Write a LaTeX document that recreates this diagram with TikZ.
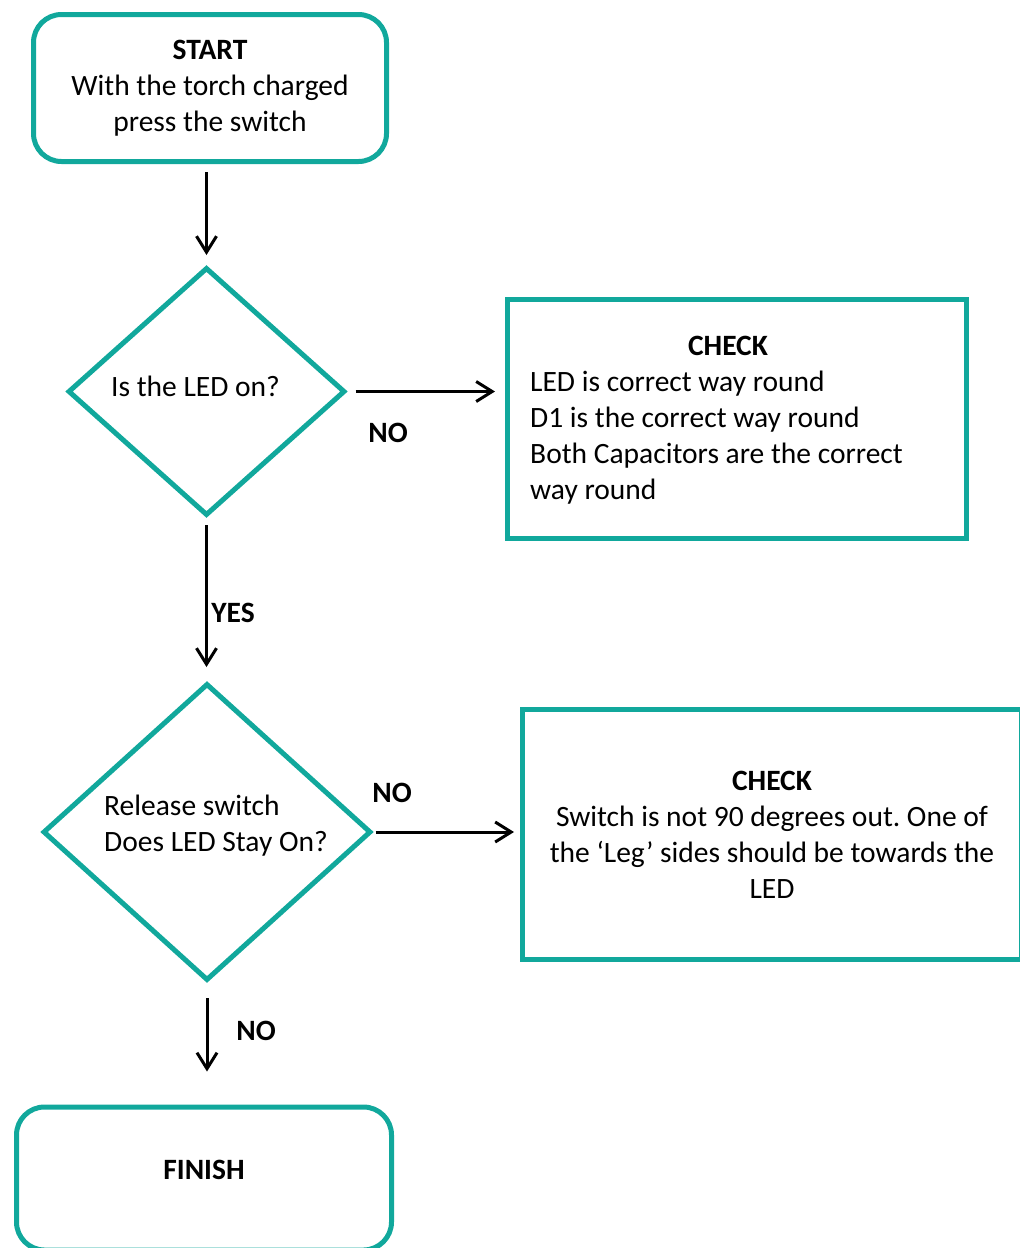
\documentclass[tikz,border=0pt]{standalone}
\usepackage{fontspec}
\setmainfont{Carlito}
\usetikzlibrary{shapes.geometric,arrows.meta}
\definecolor{flowteal}{RGB}{17,168,156}
\frenchspacing
\tikzset{
  startstop/.style={draw=flowteal,line width=5pt,rounded corners=28pt,align=center},
  checkbox/.style={draw=flowteal,line width=5pt,align=center},
  decision/.style={draw=flowteal,line width=5pt,diamond,inner sep=0pt},
  plaintext/.style={inner sep=0pt,align=left},
  answer/.style={font=\fontsize{29.5}{36}\selectfont\bfseries},
  flowarrow/.style={line width=3pt,-{Straight Barb[length=16pt,width=20pt]}}
}

\begin{document}
\begin{tikzpicture}[x=1pt,y=-1pt,font=\fontsize{29.5}{36}\selectfont]
\useasboundingbox (0,0) rectangle (1020,1248);
% shapes
\node[startstop,minimum width=353pt,minimum height=147pt] (start) at (210,88) {\textbf{START}\\With the torch charged\\press the switch};
\node[decision,minimum width=277pt,minimum height=248pt] (ledon) at (206.5,391.5) {};
\node[checkbox,minimum width=459pt,minimum height=239pt] (check1) at (737,419) {};
\node[decision,minimum width=328pt,minimum height=297pt] (stayon) at (207,832) {};
\node[checkbox,minimum width=499pt,minimum height=250pt] (check2) at (772,834.5) {\textbf{CHECK}\\Switch is not 90 degrees out. One of\\the ‘Leg’ sides should be towards the\\LED};
\node[startstop,minimum width=375pt,minimum height=143pt,text depth=17pt] (finish) at (204,1178.5) {\textbf{FINISH}};
% texts
\node[plaintext,anchor=west] (ledontxt) at (111,386) {Is the LED on?};
\node[plaintext,anchor=west] (stayontxt) at (104,826) {Release switch\\Does LED Stay On?};
\node[answer] (check1head) at (728,346) {CHECK};
\node[plaintext,anchor=west] (check1txt) at (530,438) {LED is correct way round\\D1 is the correct way round\\Both Capacitors are the correct\\way round};
% arrows
\draw[flowarrow,shorten <=8pt,shorten >=10pt] (ledon.north |- start.south) -- (ledon.north);
\draw[flowarrow,shorten <=8pt,shorten >=10pt] (ledon.east) -- (ledon.east -| check1.west);
\draw[flowarrow,shorten <=7pt,shorten >=14pt] (ledon.south) -- (ledon.south |- stayon.north);
\draw[flowarrow,shorten <=2pt,shorten >=6pt] (stayon.east) -- (stayon.east -| check2.west);
\draw[flowarrow,shorten <=15pt,shorten >=33pt] (stayon.south) -- (stayon.south |- finish.north);
% labels
\node[answer] (no1) at (388,433) {NO};
\node[answer] (yes) at (233,613) {YES};
\node[answer] (no2) at (392,793) {NO};
\node[answer] (no3) at (256,1031) {NO};
\end{tikzpicture}
\end{document}
